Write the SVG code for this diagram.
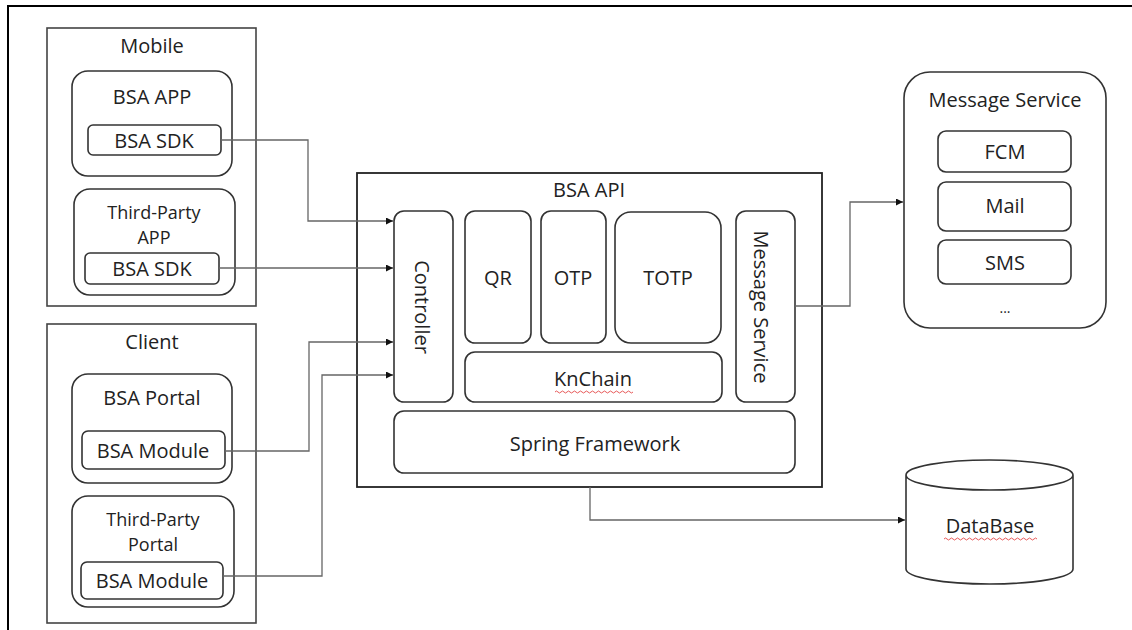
<svg xmlns="http://www.w3.org/2000/svg" width="1132" height="630" viewBox="0 0 1132 630">
<defs>
<marker id="arr" viewBox="0 0 10 10" refX="10" refY="5" markerWidth="7" markerHeight="7" markerUnits="userSpaceOnUse" orient="auto">
<path d="M0,0 L10,5 L0,10 z" fill="#111"/>
</marker>
<style>
text{font-family:"Open Sans","Noto Sans",sans-serif;font-size:20px;fill:#222;text-anchor:middle}
text.two{font-size:18px}
.grp{fill:#fff;stroke:#444;stroke-width:1.6}
.box{fill:#fff;stroke:#333;stroke-width:1.6}
.conn{fill:none;stroke:#666;stroke-width:1.3}
.frame{fill:none;stroke:#000;stroke-width:2}
.sq{fill:none;stroke:#e03030;stroke-width:0.8}
</style>
</defs>
<rect width="1132" height="630" fill="#fff"/>
<path class="frame" d="M8,630 L8,6 L1132,6"/>

<g id="mobile">
<rect class="grp" x="47" y="28" width="209" height="278"/>
<text x="152" y="53">Mobile</text>
</g>
<g id="bsa-app">
<rect class="box" x="72" y="71" width="160" height="105" rx="16"/>
<text x="152" y="104">BSA APP</text>
</g>
<g id="bsa-sdk-1">
<rect class="box" x="88" y="125" width="133" height="30" rx="5"/>
<text x="154" y="148">BSA SDK</text>
</g>
<g id="third-party-app">
<rect class="box" x="74" y="189" width="161" height="106" rx="16"/>
<text class="two" x="154" y="219">Third-Party</text>
<text class="two" x="154" y="244">APP</text>
</g>
<g id="bsa-sdk-2">
<rect class="box" x="85" y="253" width="134" height="31" rx="5"/>
<text x="152" y="276">BSA SDK</text>
</g>

<g id="client">
<rect class="grp" x="47" y="324" width="209" height="299"/>
<text x="152" y="349">Client</text>
</g>
<g id="bsa-portal">
<rect class="box" x="72" y="374" width="160" height="109" rx="16"/>
<text x="152" y="405">BSA Portal</text>
</g>
<g id="bsa-module-1">
<rect class="box" x="82" y="431" width="143" height="38" rx="6"/>
<text x="153" y="458">BSA Module</text>
</g>
<g id="third-party-portal">
<rect class="box" x="72" y="496" width="162" height="111" rx="16"/>
<text class="two" x="153" y="526">Third-Party</text>
<text class="two" x="153" y="551">Portal</text>
</g>
<g id="bsa-module-2">
<rect class="box" x="81" y="562" width="142" height="37" rx="6"/>
<text x="152" y="588">BSA Module</text>
</g>

<g id="bsa-api">
<rect class="frame" x="357" y="173" width="465" height="314" style="stroke:#222;stroke-width:1.8"/>
<text x="589" y="197">BSA API</text>
</g>
<g id="controller">
<rect class="box" x="394" y="211" width="59" height="191" rx="10"/>
<text transform="translate(422,307) rotate(90)" x="0" y="0" style="dominant-baseline:central">Controller</text>
</g>
<g id="qr">
<rect class="box" x="465" y="211" width="66" height="132" rx="10"/>
<text x="498" y="285">QR</text>
</g>
<g id="otp">
<rect class="box" x="541" y="211" width="65" height="132" rx="10"/>
<text x="573" y="285">OTP</text>
</g>
<g id="totp">
<rect class="box" x="615" y="212" width="106" height="131" rx="16"/>
<text x="668" y="285">TOTP</text>
</g>
<g id="knchain">
<rect class="box" x="465" y="352" width="257" height="50" rx="10"/>
<text x="593" y="386">KnChain</text>
<path class="sq" d="M555,392 q1.5,-2 3,0 t3,0 t3,0 t3,0 t3,0 t3,0 t3,0 t3,0 t3,0 t3,0 t3,0 t3,0 t3,0 t3,0 t3,0 t3,0 t3,0 t3,0 t3,0 t3,0 t3,0 t3,0 t3,0 t3,0 t3,0 t3,0"/>
</g>
<g id="message-service-inner">
<rect class="box" x="736" y="211" width="59" height="191" rx="10"/>
<text transform="translate(761,307) rotate(90)" x="0" y="0" style="dominant-baseline:central">Message Service</text>
</g>
<g id="spring">
<rect class="box" x="394" y="411" width="401" height="62" rx="10"/>
<text x="595" y="451">Spring Framework</text>
</g>

<g id="message-service">
<rect class="box" x="904" y="72" width="202" height="256" rx="26"/>
<text x="1005" y="107">Message Service</text>
<text x="1005" y="313" style="font-size:14px">...</text>
</g>
<g id="fcm">
<rect class="box" x="938" y="131" width="133" height="41" rx="8"/>
<text x="1005" y="159">FCM</text>
</g>
<g id="mail">
<rect class="box" x="938" y="182" width="133" height="49" rx="8"/>
<text x="1005" y="213">Mail</text>
</g>
<g id="sms">
<rect class="box" x="938" y="240" width="133" height="44" rx="8"/>
<text x="1005" y="270">SMS</text>
</g>

<g id="database">
<path class="box" d="M906,475 L906,569 A83.5,15 0 0 0 1073,569 L1073,475 A83.5,15 0 0 0 906,475 A83.5,15 0 0 0 1073,475"/>
<text x="990" y="533">DataBase</text>
<path class="sq" d="M944,539 q1.5,-2 3,0 t3,0 t3,0 t3,0 t3,0 t3,0 t3,0 t3,0 t3,0 t3,0 t3,0 t3,0 t3,0 t3,0 t3,0 t3,0 t3,0 t3,0 t3,0 t3,0 t3,0 t3,0 t3,0 t3,0 t3,0 t3,0 t3,0 t3,0 t3,0 t3,0 t3,0"/>
</g>

<g id="connectors">
<path class="conn" d="M221,140 H308 V221 H393" marker-end="url(#arr)"/>
<path class="conn" d="M219,268 H393" marker-end="url(#arr)"/>
<path class="conn" d="M225,451 H309 V342 H393" marker-end="url(#arr)"/>
<path class="conn" d="M223,576 H322 V375 H393" marker-end="url(#arr)"/>
<path class="conn" d="M795,306 H850 V202 H903" marker-end="url(#arr)"/>
<path class="conn" d="M590,487 V520 H905" marker-end="url(#arr)"/>
</g>
</svg>
